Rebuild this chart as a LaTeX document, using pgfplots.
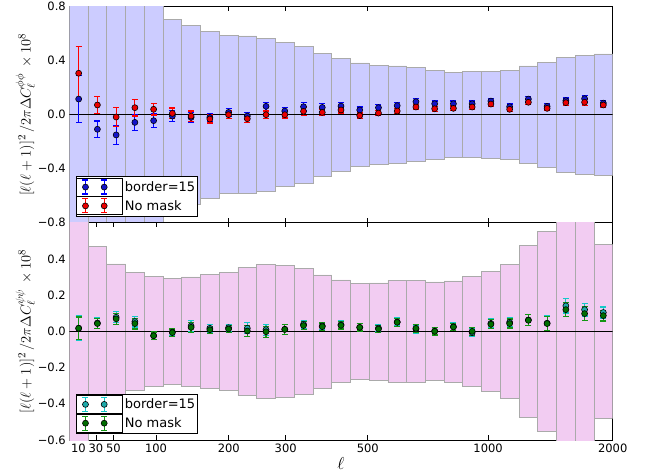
\documentclass[border=0pt]{standalone}
\usepackage{pgfplots}
\pgfplotsset{compat=1.18}
\usepackage{pgfplotstable}
\usepackage{fontspec}
\setmainfont{DejaVu Sans}

\definecolor{topbar}{RGB}{204,204,255}
\definecolor{botbar}{RGB}{242,204,242}
\definecolor{baredge}{RGB}{170,170,170}
\definecolor{errblue}{RGB}{0,0,255}
\definecolor{fillblue}{RGB}{20,20,200}
\definecolor{errred}{RGB}{255,0,0}
\definecolor{fillred}{RGB}{235,0,0}
\definecolor{errcyan}{RGB}{20,200,200}
\definecolor{fillcyan}{RGB}{30,170,170}
\definecolor{errgreen}{RGB}{20,150,20}
\definecolor{fillgreen}{RGB}{0,110,0}

\newcommand{\tickfont}{\fontsize{11.5pt}{13pt}\selectfont}
\newcommand{\legfont}{\fontsize{13pt}{15pt}\selectfont}
\newcommand{\labfont}{\fontsize{15.5pt}{17pt}\selectfont}

\newcommand{\legerr}[2]{%
 \path (-9pt,-9pt) rectangle (37pt,9pt);
 \draw[#1, line width=1.2pt] (0pt,-7pt)--(0pt,7pt) (-3pt,-7pt)--(3pt,-7pt) (-3pt,7pt)--(3pt,7pt)
   (18.7pt,-7pt)--(18.7pt,7pt) (15.7pt,-7pt)--(21.7pt,-7pt) (15.7pt,7pt)--(21.7pt,7pt);
 \filldraw[fill=#2, draw=black, line width=0.6pt] (0pt,0pt) circle (3pt) (18.7pt,0pt) circle (3pt);}

% bin half-widths (symmetric bands), bins 0..28 plus closing row
\pgfplotstableread{
x s
0 1.2
1 1.2
2 1.2
3 1.2
4 1.2
5 0.707
6 0.664
7 0.620
8 0.585
9 0.583
10 0.566
11 0.533
12 0.506
13 0.457
14 0.419
15 0.383
16 0.366
17 0.361
18 0.348
19 0.329
20 0.316
21 0.318
22 0.321
23 0.329
24 0.361
25 0.390
26 0.425
27 0.440
28 0.450
29 0.450
}\topbands

\pgfplotstableread{
x s
0 1.0
1 0.468
2 0.373
3 0.327
4 0.305
5 0.292
6 0.301
7 0.314
8 0.327
9 0.355
10 0.368
11 0.362
12 0.349
13 0.312
14 0.284
15 0.265
16 0.268
17 0.283
18 0.283
19 0.273
20 0.279
21 0.305
22 0.331
23 0.371
24 0.475
25 0.554
26 1.0
27 1.0
28 0.479
29 0.479
}\botbands

\pgfplotstableread{
x b eb r er
0.5 0.116 0.175 0.307 0.197
1.5 -0.108 0.062 0.072 0.065
2.5 -0.150 0.069 -0.017 0.072
3.5 -0.057 0.059 0.052 0.062
4.5 -0.044 0.050 0.040 0.042
5.5 -0.010 0.040 0.010 0.040
6.5 -0.020 0.038 -0.010 0.038
7.5 -0.020 0.030 -0.032 0.030
8.5 0.017 0.030 0.000 0.028
9.5 -0.010 0.025 -0.030 0.025
10.5 0.062 0.030 0.000 0.028
11.5 0.027 0.028 0.000 0.025
12.5 0.059 0.030 0.025 0.028
13.5 0.054 0.028 0.017 0.025
14.5 0.064 0.025 0.035 0.022
15.5 0.035 0.022 -0.007 0.020
16.5 0.052 0.022 0.012 0.020
17.5 0.067 0.022 0.027 0.020
18.5 0.096 0.022 0.057 0.020
19.5 0.081 0.020 0.044 0.018
20.5 0.081 0.020 0.047 0.018
21.5 0.081 0.020 0.057 0.018
22.5 0.101 0.020 0.079 0.018
23.5 0.059 0.020 0.040 0.018
24.5 0.116 0.020 0.092 0.018
25.5 0.062 0.020 0.047 0.018
26.5 0.104 0.020 0.089 0.018
27.5 0.119 0.025 0.092 0.022
28.5 0.086 0.022 0.072 0.020
}\toppts

\pgfplotstableread{
x c ec g eg
0.5 0.017 0.069 0.017 0.062
1.5 0.046 0.030 0.043 0.027
2.5 0.078 0.030 0.069 0.030
3.5 0.054 0.030 0.043 0.030
4.5 -0.024 0.022 -0.024 0.020
5.5 -0.004 0.020 -0.007 0.020
6.5 0.030 0.030 0.022 0.028
7.5 0.017 0.022 0.009 0.020
8.5 0.020 0.020 0.013 0.020
9.5 0.017 0.030 0.002 0.030
10.5 0.009 0.030 -0.002 0.030
11.5 0.011 0.028 0.011 0.028
12.5 0.039 0.022 0.032 0.022
13.5 0.030 0.020 0.026 0.020
14.5 0.037 0.020 0.033 0.020
15.5 0.022 0.020 0.022 0.020
16.5 0.018 0.020 0.013 0.020
17.5 0.052 0.022 0.050 0.022
18.5 0.013 0.022 0.017 0.022
19.5 0.002 0.020 0.000 0.020
20.5 0.026 0.020 0.024 0.020
21.5 -0.007 0.022 0.000 0.022
22.5 0.044 0.025 0.039 0.025
23.5 0.050 0.025 0.043 0.025
24.5 0.063 0.030 0.061 0.030
25.5 0.045 0.040 0.043 0.040
26.5 0.141 0.040 0.120 0.040
27.5 0.120 0.035 0.098 0.040
28.5 0.104 0.030 0.087 0.030
}\botpts

\pgfplotsset{
 panel/.style={
  scale only axis, width=543.4pt, xmin=0, xmax=29,
  tick align=inside, major tick length=4.5pt,
  xtick={0.482,1.425,2.35,4.63,8.51,11.55,15.93,22.35,29},
  tick label style={font=\tickfont, black},
  axis line style={line width=0.8pt},
  every tick/.append style={black, line width=0.8pt},
  legend style={at={(axis description cs:0,0)}, anchor=south west, xshift=6.4pt, yshift=6pt,
    draw=black, line width=0.8pt, fill=white, font=\legfont,
    nodes={font=\legfont},
    cells={anchor=west}, row sep=0pt, inner xsep=0pt, inner ysep=1pt,
    /tikz/every even column/.append style={column sep=2pt}},
  ylabel style={at={(axis description cs:-0.081,0.5)}, anchor=center, font=\labfont},
 },
 band/.style={ybar interval, fill=#1, draw=baredge, line width=0.6pt, forget plot},
 pts/.style 2 args={only marks, mark=*, mark size=3pt,
   mark options={fill=#2, draw=black, line width=0.6pt},
   legend image code/.code={\legerr{#1}{#2}},
   error bars/.cd, y dir=both, y explicit,
   error bar style={#1, line width=1.2pt},
   error mark options={#1, line width=1.2pt, mark size=3pt, rotate=90},
   /pgfplots/.cd},
}

\begin{document}
\begin{tikzpicture}
\path[use as bounding box] (0pt,0pt) rectangle (657pt,475pt);

\begin{axis}[panel, at={(69.3pt,252.3pt)}, anchor=south west, height=216pt,
  ymin=-0.8, ymax=0.8, ytick={-0.8,-0.4,0,0.4,0.8},
  yticklabels={−0.8,−0.4,0.0,0.4,0.8},
  xticklabels={\empty,\empty,\empty,\empty,\empty,\empty,\empty,\empty,\empty},
  ylabel={$[\ell(\ell+1)]^2\,/2\pi\Delta C_\ell^{\phi\phi}\,\times10^8$}]
\addplot[band=topbar] table[x=x, y=s] {\topbands};
\addplot[band=topbar] table[x=x, y expr=-\thisrow{s}] {\topbands};
\addplot[black, line width=0.8pt, forget plot] coordinates {(0,0) (29,0)};
\addplot[pts={errblue}{fillblue}] table[x=x, y=b, y error=eb] {\toppts};
\addlegendentry{border=15}
\addplot[pts={errred}{fillred}] table[x=x, y=r, y error=er] {\toppts};
\addlegendentry{No mask}
\end{axis}

\begin{axis}[panel, at={(69.3pt,35pt)}, anchor=south west, height=217.3pt,
  ymin=-0.6, ymax=0.6, ytick={-0.6,-0.4,-0.2,0,0.2,0.4},
  yticklabels={−0.6,−0.4,−0.2,0.0,0.2,0.4},
  xticklabels={10,30,50,100,200,300,500,1000,2000},
  xlabel={$\ell$}, xlabel style={at={(axis description cs:0.5,-0.106)}, anchor=center, font=\fontsize{17pt}{17pt}\selectfont},
  ylabel={$[\ell(\ell+1)]^2\,/2\pi\Delta C_\ell^{\psi\psi}\,\times10^8$}]
\addplot[band=botbar] table[x=x, y=s] {\botbands};
\addplot[band=botbar] table[x=x, y expr=-\thisrow{s}] {\botbands};
\addplot[black, line width=0.8pt, forget plot] coordinates {(0,0) (29,0)};
\addplot[pts={errcyan}{fillcyan}] table[x=x, y=c, y error=ec] {\botpts};
\addlegendentry{border=15}
\addplot[pts={errgreen}{fillgreen}] table[x=x, y=g, y error=eg] {\botpts};
\addlegendentry{No mask}
\end{axis}
\end{tikzpicture}
\end{document}
